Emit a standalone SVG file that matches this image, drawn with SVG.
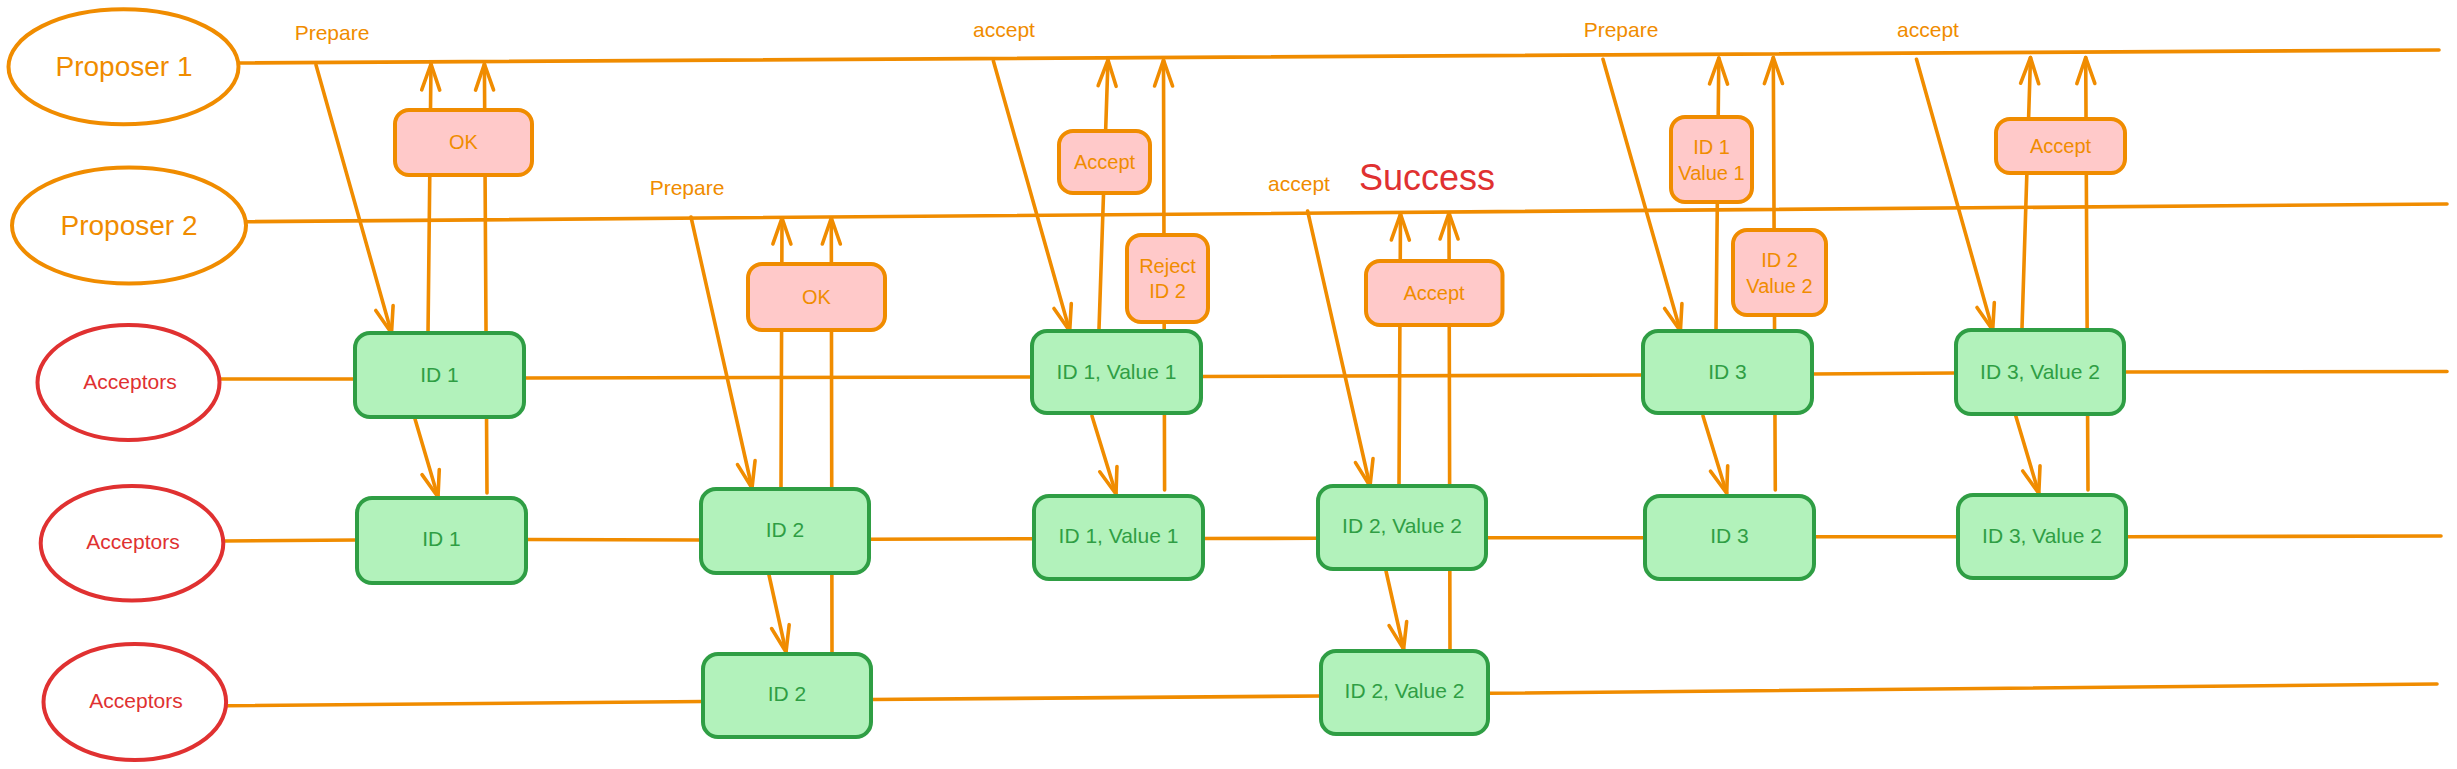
<svg xmlns="http://www.w3.org/2000/svg" width="2457" height="769" viewBox="0 0 2457 769">
<style>
.bg{fill:#ffffff}
.ln{fill:none;stroke:#f08c00;stroke-width:3.6;stroke-linecap:round}
.ar{fill:none;stroke:#f08c00;stroke-width:3.6;stroke-linecap:round;marker-end:url(#ah)}
.pe{fill:#ffffff;stroke:#f08c00;stroke-width:4}
.ae{fill:#ffffff;stroke:#e03131;stroke-width:4}
.gb{fill:#b2f2bb;stroke:#2f9e44;stroke-width:4}
.pb{fill:#ffc9c9;stroke:#f08c00;stroke-width:4}
text{font-family:"Liberation Sans",Arial,sans-serif;text-anchor:middle}
.pt{fill:#f08c00;font-size:28px}
.at{fill:#e03131;font-size:21px}
.gt{fill:#2f9e44;font-size:21px}
.kt{fill:#f08c00;font-size:20px}
.lb{fill:#f08c00;font-size:21px}
.sc{fill:#e03131;font-size:36px}
</style>
<defs>
<marker id="ah" markerUnits="userSpaceOnUse" viewBox="-30 -15 35 30" markerWidth="35" markerHeight="30" refX="0" refY="0" orient="auto">
<path d="M-26,-9 L0,0 L-26,9" fill="none" stroke="#f08c00" stroke-width="3.6" stroke-linecap="round" stroke-linejoin="round"/>
</marker>
</defs>
<rect class="bg" x="0" y="0" width="2457" height="769"/>
<g id="connectors">
<path class="ln" d="M238,63 L2439,50"/>
<path class="ln" d="M246,221.7 L2447,204"/>
<path class="ln" d="M219.5,379 L355,379"/>
<path class="ln" d="M524,378 L1032,377"/>
<path class="ln" d="M1201,376.5 L1643,375"/>
<path class="ln" d="M1812,374 L1956,373"/>
<path class="ln" d="M2124,372 L2447,371.5"/>
<path class="ln" d="M223,541 L357,540"/>
<path class="ln" d="M526,539.5 L701,540"/>
<path class="ln" d="M869,539.3 L1034,538.7"/>
<path class="ln" d="M1203,538.5 L1318,538.3"/>
<path class="ln" d="M1486,537.7 L1645,537.7"/>
<path class="ln" d="M1814,536.7 L1958,536.7"/>
<path class="ln" d="M2126,536.7 L2441,536"/>
<path class="ln" d="M226,705.7 L703,701.5"/>
<path class="ln" d="M871,699.5 L1321,696"/>
<path class="ln" d="M1488,693.3 L2437,684"/>
<path class="ar" d="M316,65 L391.5,333"/>
<path class="ar" d="M428,335 L431,64"/>
<path class="ar" d="M487,493 L484.4,64"/>
<path class="ar" d="M415,419 L438,497"/>
<path class="ar" d="M691,217 L752,488"/>
<path class="ar" d="M781,488 L782,218"/>
<path class="ar" d="M832,652 L831.3,218"/>
<path class="ar" d="M769,575 L786,652"/>
<path class="ar" d="M993.4,61 L1069.7,331"/>
<path class="ar" d="M1099,329 L1108,60"/>
<path class="ar" d="M1164.6,490 L1163.5,60"/>
<path class="ar" d="M1092,416 L1116,494"/>
<path class="ar" d="M1307.6,211 L1370,486"/>
<path class="ar" d="M1399,486 L1400.5,214"/>
<path class="ar" d="M1450,649 L1449,213"/>
<path class="ar" d="M1386,571 L1403.6,649"/>
<path class="ar" d="M1603,59.3 L1680.4,331"/>
<path class="ar" d="M1716,331 L1718.8,58"/>
<path class="ar" d="M1775.3,490 L1773.3,57.5"/>
<path class="ar" d="M1703,416 L1726.7,493.3"/>
<path class="ar" d="M1916.5,59.3 L1992.7,330"/>
<path class="ar" d="M2022,328 L2030.5,57.5"/>
<path class="ar" d="M2088,490 L2085.7,57.5"/>
<path class="ar" d="M2015.8,416 L2038.8,493.3"/>
</g>
<g id="proposer1"><ellipse class="pe" cx="123.5" cy="66.8" rx="115" ry="57.5"/><text class="pt" x="124" y="76">Proposer 1</text></g>
<g id="proposer2"><ellipse class="pe" cx="129" cy="225.5" rx="117" ry="58"/><text class="pt" x="129" y="235">Proposer 2</text></g>
<g id="acceptors1"><ellipse class="ae" cx="128.5" cy="382.5" rx="91" ry="57.5"/><text class="at" x="130" y="389">Acceptors</text></g>
<g id="acceptors2"><ellipse class="ae" cx="132" cy="543.3" rx="91.3" ry="57.3"/><text class="at" x="133" y="549">Acceptors</text></g>
<g id="acceptors3"><ellipse class="ae" cx="134.8" cy="702" rx="91.3" ry="58"/><text class="at" x="136" y="708">Acceptors</text></g>
<g id="r1-id1"><rect class="gb" x="355" y="333" width="169" height="84" rx="15"/><text class="gt" x="439.5" y="382">ID 1</text></g>
<g id="r1-id1v1"><rect class="gb" x="1032" y="331" width="169" height="82" rx="15"/><text class="gt" x="1116.5" y="379">ID 1, Value 1</text></g>
<g id="r1-id3"><rect class="gb" x="1643" y="331" width="169" height="82" rx="15"/><text class="gt" x="1727.5" y="379">ID 3</text></g>
<g id="r1-id3v2"><rect class="gb" x="1956" y="330" width="168" height="84" rx="15"/><text class="gt" x="2040" y="379">ID 3, Value 2</text></g>
<g id="r2-id1"><rect class="gb" x="357" y="498" width="169" height="85" rx="15"/><text class="gt" x="441.5" y="546">ID 1</text></g>
<g id="r2-id2"><rect class="gb" x="701" y="489" width="168" height="84" rx="15"/><text class="gt" x="785" y="537">ID 2</text></g>
<g id="r2-id1v1"><rect class="gb" x="1034" y="496" width="169" height="83" rx="15"/><text class="gt" x="1118.5" y="543">ID 1, Value 1</text></g>
<g id="r2-id2v2"><rect class="gb" x="1318" y="486" width="168" height="83" rx="15"/><text class="gt" x="1402" y="533">ID 2, Value 2</text></g>
<g id="r2-id3"><rect class="gb" x="1645" y="496" width="169" height="83" rx="15"/><text class="gt" x="1729.5" y="543">ID 3</text></g>
<g id="r2-id3v2"><rect class="gb" x="1958" y="495" width="168" height="83" rx="15"/><text class="gt" x="2042" y="543">ID 3, Value 2</text></g>
<g id="r3-id2"><rect class="gb" x="703" y="654" width="168" height="83" rx="15"/><text class="gt" x="787" y="701">ID 2</text></g>
<g id="r3-id2v2"><rect class="gb" x="1321" y="651" width="167" height="83" rx="15"/><text class="gt" x="1404.5" y="698">ID 2, Value 2</text></g>
<g id="ok1"><rect class="pb" x="395" y="110" width="137" height="65" rx="14"/><text class="kt" x="463.5" y="149">OK</text></g>
<g id="ok2"><rect class="pb" x="748" y="264" width="137" height="66" rx="14"/><text class="kt" x="816.5" y="304">OK</text></g>
<g id="accept1"><rect class="pb" x="1059" y="131" width="91" height="62" rx="14"/><text class="kt" x="1104.5" y="169">Accept</text></g>
<g id="reject"><rect class="pb" x="1127" y="235" width="81" height="87" rx="14"/><text class="kt" x="1167.5" y="273">Reject</text><text class="kt" x="1167.5" y="298">ID 2</text></g>
<g id="accept2"><rect class="pb" x="1366" y="261" width="136.5" height="64" rx="14"/><text class="kt" x="1434" y="300">Accept</text></g>
<g id="id1value1"><rect class="pb" x="1671" y="117" width="81" height="85" rx="14"/><text class="kt" x="1711.5" y="154">ID 1</text><text class="kt" x="1711.5" y="180">Value 1</text></g>
<g id="id2value2"><rect class="pb" x="1733" y="230" width="93" height="85" rx="14"/><text class="kt" x="1779.5" y="267">ID 2</text><text class="kt" x="1779.5" y="293">Value 2</text></g>
<g id="accept3"><rect class="pb" x="1996" y="119" width="129" height="54" rx="14"/><text class="kt" x="2060.5" y="153">Accept</text></g>
<g id="labels">
<text class="lb" x="332" y="40">Prepare</text>
<text class="lb" x="1004" y="37">accept</text>
<text class="lb" x="687" y="195">Prepare</text>
<text class="lb" x="1299" y="191">accept</text>
<text class="sc" x="1427" y="190">Success</text>
<text class="lb" x="1621" y="37">Prepare</text>
<text class="lb" x="1928" y="37">accept</text>
</g>
</svg>
